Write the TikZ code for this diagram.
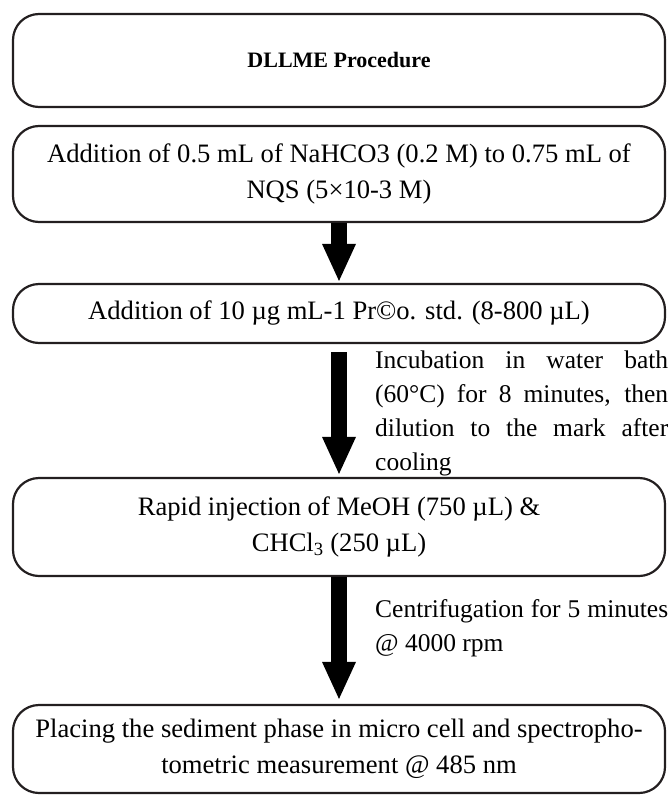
\documentclass[tikz,border=0pt]{standalone}
\usepackage{fontspec}
\setmainfont{Liberation Serif}
\usepackage{tikz}
\usetikzlibrary{arrows.meta,positioning}
\definecolor{inkgray}{RGB}{35,31,32}

\begin{document}
\begin{tikzpicture}[x=1pt,y=-1pt,
    stepbox/.style={draw=inkgray,line width=2.2pt,rounded corners=26pt,align=center,
                    minimum width=652pt,inner sep=0pt,
                    font=\fontsize{26.6}{36}\selectfont},
    titlebox/.style={stepbox,font=\fontsize{22}{26}\selectfont\bfseries},
    blockarr/.style={-{Triangle[length=37pt,width=34pt,line width=0pt]},line width=16pt,black},
    note/.style={text width=293pt,align=justify,inner sep=0pt,anchor=west,
                 font=\fontsize{25.5}{34}\selectfont}]
  \useasboundingbox (0,0) rectangle (670,795);
  \node[titlebox,minimum height=93pt] (t)  at (339,60.5)  {DLLME Procedure};
  \node[stepbox,minimum height=96pt]  (s1) at (339,174)   {Addition of 0.5 mL of NaHCO3 (0.2 M) to 0.75 mL of\\NQS (5×10-3 M)};
  \node[stepbox,minimum height=59pt]  (s2) at (339,313.5) {Addition of 10 µg mL-1 Pr©o. std. (8-800 µL)};
  \node[stepbox,minimum height=98pt]  (s3) at (339,527)   {Rapid injection of MeOH (750 µL) \&\\CHCl\textsubscript{3} (250 µL)};
  \node[stepbox,minimum height=88pt]  (s4) at (339,749)   {Placing the sediment phase in micro cell and spectropho-\\tometric measurement @ 485 nm};
  \draw[blockarr,shorten >=2pt] (s1) -- (s2);
  \draw[blockarr,shorten <=8pt,shorten >=3pt] (s2) -- (s3);
  \draw[blockarr,shorten >=5pt] (s3) -- (s4);
  \node[note] (n1) at (375,413) {Incubation in water bath\linebreak (60°C) for 8 minutes, then\linebreak dilution to the mark after\linebreak cooling};
  \node[note] (n2) at (375,628) {Centrifugation for 5 minutes\linebreak @ 4000 rpm};
\end{tikzpicture}
\end{document}
